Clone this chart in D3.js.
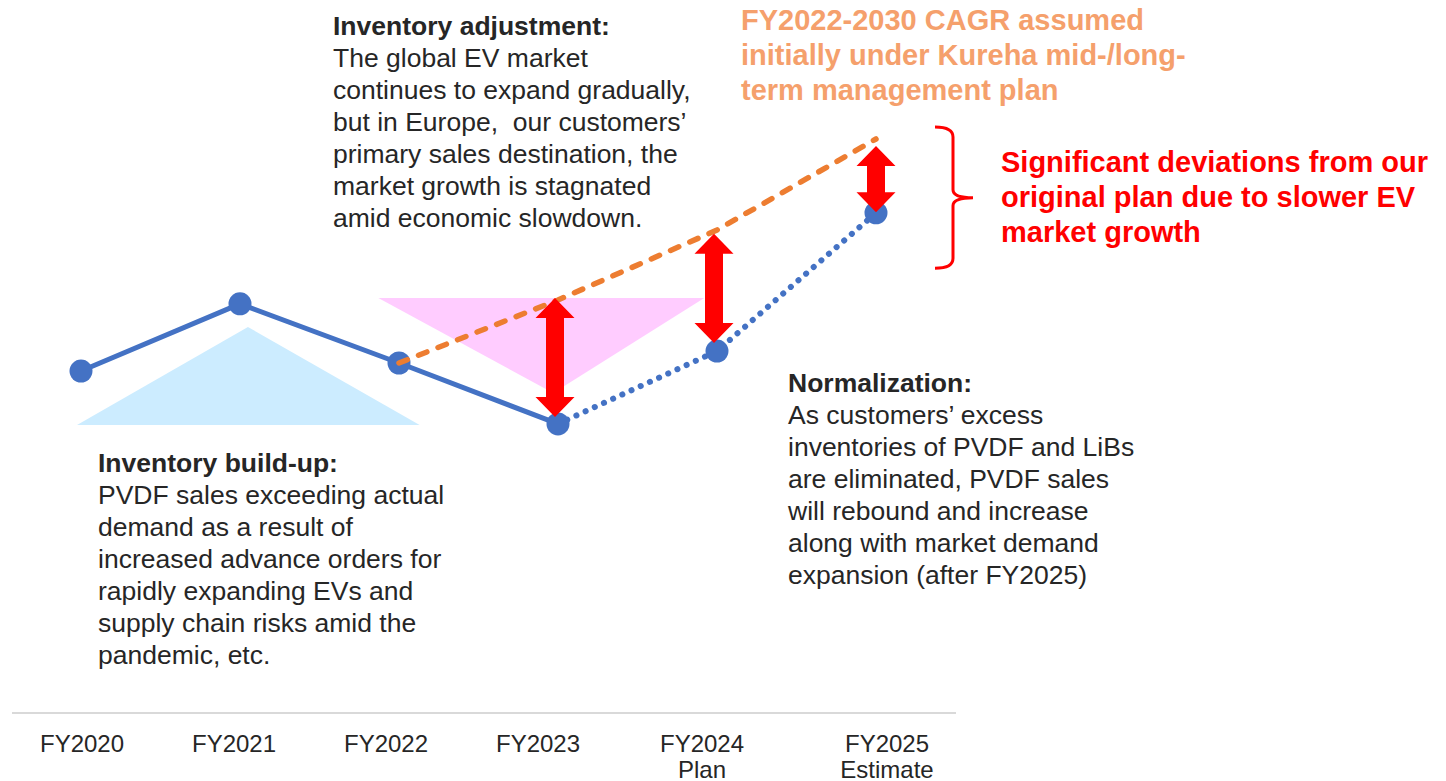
<!DOCTYPE html>
<meta charset='utf-8'>
<script src='https://d3js.org/d3.v7.min.js'></script>
<style>
  body { margin: 0; background: #fff; }
  text { font-family: "Liberation Sans", Arial, sans-serif; white-space: pre; }
</style>
<body>
<script>
// data
var years = ['FY2020', 'FY2021', 'FY2022', 'FY2023', 'FY2024', 'FY2025'];
var yearSub = ['', '', '', '', 'Plan', 'Estimate'];
// PVDF sales index (FY2022 = 100)
var actual = [97.7, 116.9, 100, 82.6, 103.4, 142.9];
// initial mid-/long-term plan path from FY2022 (CAGR assumption)
var planYears = ['FY2022', 'FY2023', 'FY2024', 'FY2025'];
var plan = [100, 118, 138, 164];
// deviation arrows: where each arrow starts / ends (index units)
var gapYears = ['FY2023', 'FY2024', 'FY2025'];
var gapTop = [118.6, 136.9, 162];
var gapBottom = [84.6, 105.7, 143.1];

var width = 1446,
    height = 781;

var svg = d3.select('body').append('svg').attr('width', width).attr('height', height);

var idx = function(yr) { return years.indexOf(yr); };
var x = d3.scaleLinear().domain([0, years.length - 1]).range([81, 876]);
var y = d3.scaleLinear().domain([0, 100]).range([713, 363]);
// tick labels sit slightly off the point centres in the original
var xLab = d3.scaleLinear().domain([0, 3, 4, 5]).range([82, 538, 702, 887]);

var textColor = '#262626';

// background triangles (in index / value units)
var tri = d3.line().x(function(d) { return x(d[0]); }).y(function(d) { return y(d[1]); });
svg.append('path')
    .attr('d', tri([[-0.025, 82.3], [1.05, 110.3], [2.13, 82.3]]) + 'Z')
    .attr('fill', '#ccecff');
svg.append('path')
    .attr('d', tri([[1.87, 118.6], [3.92, 118.6], [2.97, 91.4]]) + 'Z')
    .attr('fill', '#ffccff');

// axis line
svg.append('line')
    .attr('x1', 12).attr('x2', 956)
    .attr('y1', y(0)).attr('y2', y(0))
    .attr('stroke', '#d9d9d9').attr('stroke-width', 2);

var ax = svg.append('g').attr('fill', textColor).attr('font-size', 24).attr('text-anchor', 'middle');
years.forEach(function(yr, i) {
  var t = ax.append('text').attr('x', xLab(i)).attr('y', 752);
  t.append('tspan').attr('x', xLab(i)).text(yr);
  if (yearSub[i]) t.append('tspan').attr('x', xLab(i)).attr('dy', 26).text(yearSub[i]);
});

// actual line: solid up to FY2023, dotted afterwards
var line = d3.line().x(function(d) { return x(d.i); }).y(function(d) { return y(d.v); });
var pts = actual.map(function(v, i) { return {i: i, v: v}; });

svg.append('path')
    .attr('d', line(pts.slice(0, 4)))
    .attr('fill', 'none').attr('stroke', '#4472c4').attr('stroke-width', 5)
    .attr('stroke-linejoin', 'round');
svg.append('path')
    .attr('d', line(pts.slice(3)))
    .attr('fill', 'none').attr('stroke', '#4472c4').attr('stroke-width', 6)
    .attr('stroke-linecap', 'round').attr('stroke-dasharray', '0.1 10');

svg.append('g').selectAll('circle')
    .data(pts)
  .enter().append('circle')
    .attr('cx', function(d) { return x(d.i); })
    .attr('cy', function(d) { return y(d.v); })
    .attr('r', 11.5)
    .attr('fill', '#4472c4');

// initial plan, dashed orange
var planPts = plan.map(function(v, k) { return {i: idx(planYears[k]), v: v}; });
svg.append('path')
    .attr('d', line(planPts))
    .attr('fill', 'none').attr('stroke', '#ed7d31').attr('stroke-width', 5.5)
    .attr('stroke-linecap', 'round').attr('stroke-dasharray', '9 12');

// red double arrows between plan and actual
function dblArrow(cx, y1, y2) {
  var bw = 9, hw = 19.5, hl = 20;
  return 'M' + cx + ',' + y1 +
    'L' + (cx + hw) + ',' + (y1 + hl) + 'L' + (cx + bw) + ',' + (y1 + hl) +
    'L' + (cx + bw) + ',' + (y2 - hl) + 'L' + (cx + hw) + ',' + (y2 - hl) +
    'L' + cx + ',' + y2 +
    'L' + (cx - hw) + ',' + (y2 - hl) + 'L' + (cx - bw) + ',' + (y2 - hl) +
    'L' + (cx - bw) + ',' + (y1 + hl) + 'L' + (cx - hw) + ',' + (y1 + hl) + 'Z';
}
svg.append('g').selectAll('path')
    .data(gapYears)
  .enter().append('path')
    .attr('d', function(yr, k) {
      var i = idx(yr);
      var cx = x(i) - (k < 2 ? 3 : 0);
      return dblArrow(cx, y(gapTop[k]), y(gapBottom[k]));
    })
    .attr('fill', '#ff0000');

// brace spanning the FY2025 gap
var bx = x(5) + 59, byTop = y(167.4), byBot = y(127.1), byMid = (byTop + byBot) / 2;
svg.append('path')
    .attr('d', 'M' + bx + ',' + byTop +
      'Q' + (bx + 18) + ',' + byTop + ' ' + (bx + 18) + ',' + (byTop + 10) +
      'L' + (bx + 18) + ',' + (byMid - 8) +
      'Q' + (bx + 18) + ',' + byMid + ' ' + (bx + 38) + ',' + byMid +
      'Q' + (bx + 18) + ',' + byMid + ' ' + (bx + 18) + ',' + (byMid + 8) +
      'L' + (bx + 18) + ',' + (byBot - 10) +
      'Q' + (bx + 18) + ',' + byBot + ' ' + bx + ',' + byBot)
    .attr('fill', 'none').attr('stroke', '#ff0000').attr('stroke-width', 3);

// text blocks
function block(x0, y0, step, size, color, lines, boldAll) {
  var t = svg.append('text').attr('font-size', size).attr('fill', color);
  lines.forEach(function(s, k) {
    t.append('tspan')
      .attr('x', x0).attr('y', y0 + k * step)
      .attr('font-weight', (boldAll || k === 0) ? 'bold' : 'normal')
      .text(s);
  });
}

block(333, 35, 32, 26.5, textColor, [
  'Inventory adjustment:',
  'The global EV market',
  'continues to expand gradually,',
  'but in Europe,  our customers\u2019',
  'primary sales destination, the',
  'market growth is stagnated',
  'amid economic slowdown.'
]);

block(98, 472, 32, 26.5, textColor, [
  'Inventory build-up:',
  'PVDF sales exceeding actual',
  'demand as a result of',
  'increased advance orders for',
  'rapidly expanding EVs and',
  'supply chain risks amid the',
  'pandemic, etc.'
]);

block(788, 392, 32, 26.5, textColor, [
  'Normalization:',
  'As customers\u2019 excess',
  'inventories of PVDF and LiBs',
  'are eliminated, PVDF sales',
  'will rebound and increase',
  'along with market demand',
  'expansion (after FY2025)'
]);

block(741, 30, 35, 29, '#f5a06c', [
  'FY2022-2030 CAGR assumed',
  'initially under Kureha mid-/long-',
  'term management plan'
], true);

block(1001, 172, 35, 29, '#ff0000', [
  'Significant deviations from our',
  'original plan due to slower EV',
  'market growth'
], true);
</script>
